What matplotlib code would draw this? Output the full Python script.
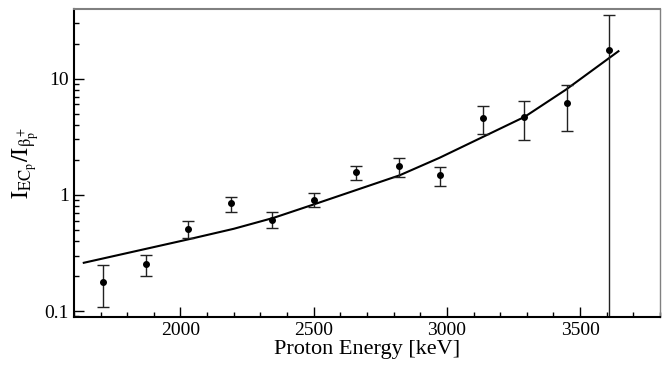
import numpy as np
import matplotlib
matplotlib.use('Agg')
import matplotlib.pyplot as plt
from matplotlib.ticker import MultipleLocator, LogLocator, FixedLocator, NullFormatter

plt.rcParams['font.family'] = ['Liberation Serif', 'DejaVu Serif']
plt.rcParams['mathtext.fontset'] = 'stix'

# measured ratios
energy = [1710, 1870, 2030, 2190, 2345, 2500, 2660, 2820, 2975, 3135, 3290, 3450, 3610]
ratio = [0.179, 0.252, 0.503, 0.842, 0.613, 0.911, 1.58, 1.76, 1.47, 4.62, 4.71, 6.18, 17.6]
err_hi = [0.248, 0.303, 0.593, 0.954, 0.709, 1.04, 1.77, 2.09, 1.73, 5.86, 6.43, 8.75, 35.5]
err_lo = [0.109, 0.201, 0.421, 0.718, 0.513, 0.778, 1.35, 1.43, 1.19, 3.35, 2.95, 3.55, 0.01]

# theory curve
curve_e = [1637, 2028, 2200, 2350, 2500, 2822, 2972, 3292, 3447, 3644]
curve_r = [0.26, 0.413, 0.51, 0.634, 0.826, 1.47, 2.08, 4.69, 8.04, 17.2]

ratio = np.array(ratio)
yerr = [ratio - np.array(err_lo), np.array(err_hi) - ratio]

fig = plt.figure(figsize=(6.66, 3.65), dpi=100)
ax = fig.add_axes([0.111, 0.1315, 0.880, 0.8438])

ax.plot(curve_e, curve_r, color='black', lw=1.5)
ax.errorbar(energy, ratio, yerr=yerr, fmt='o', color='black', ms=4,
            elinewidth=1, capsize=4.5, capthick=1, ecolor='#222222')

ax.set_yscale('log')
ax.set_xlim(1600, 3800)
ax.set_ylim(0.0888, 39.7)

ax.xaxis.set_major_locator(FixedLocator([2000, 2500, 3000, 3500]))
ax.xaxis.set_minor_locator(MultipleLocator(100))
ax.yaxis.set_major_locator(FixedLocator([0.1, 1, 10]))
ax.yaxis.set_minor_locator(LogLocator(base=10, subs=np.arange(2, 10)))
ax.yaxis.set_minor_formatter(NullFormatter())
ax.set_yticklabels(['0.1', '1', '10'])

ax.tick_params(which='both', direction='in', top=False, right=False, labelsize=14)
ax.tick_params(which='major', length=7.5, width=1)
ax.tick_params(which='minor', length=3.6, width=1)

ax.spines['left'].set_linewidth(1.5)
ax.spines['bottom'].set_linewidth(1.5)
ax.spines['top'].set_color('#808080')
ax.spines['top'].set_linewidth(1.5)
ax.spines['right'].set_color('#808080')
ax.spines['right'].set_linewidth(1)

ax.set_xlabel('Proton Energy [keV]', fontsize=16, labelpad=1)
ax.set_ylabel(r'$\mathrm{I_{EC_p}/I_{\beta^+_p}}$', fontsize=17, labelpad=2)

fig.savefig('out.png', dpi=100)
